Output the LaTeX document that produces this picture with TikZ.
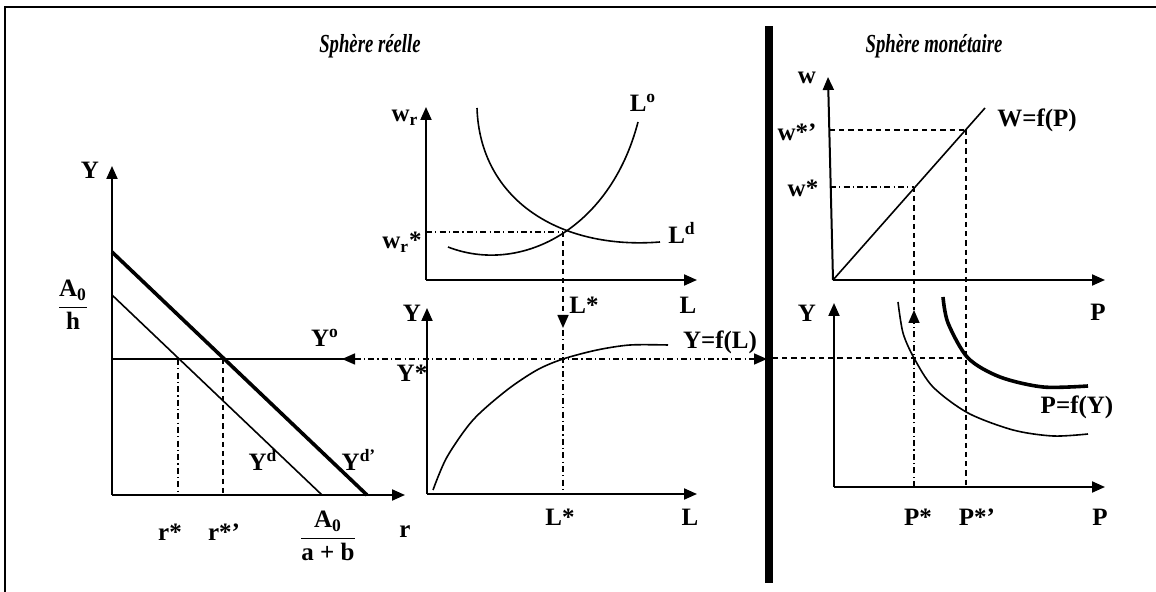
\documentclass[tikz,border=0pt]{standalone}
\usepackage{amsmath}
\usepackage{fontspec}
\setmainfont{Liberation Serif}
\usetikzlibrary{arrows.meta}

\begin{document}
\begin{tikzpicture}[x=0.5pt,y=-0.5pt,
    >={Triangle[length=6.5pt,width=5.5pt]},
    every node/.style={font=\fontsize{12.5}{14}\selectfont\bfseries, inner sep=1pt},
    titre/.style={font=\fontsize{13}{15}\selectfont\bfseries\itshape},
    axe/.style={line width=1pt, ->},
    courbe/.style={line width=0.8pt},
    grosse/.style={line width=1.8pt},
    tirets/.style={line width=0.8pt, dash pattern=on 2.6pt off 2pt},
    mixte/.style={line width=0.8pt, dash pattern=on 3pt off 1.6pt on 0.6pt off 1.6pt}]
    \useasboundingbox (0,0) rectangle (1156,592);
    \draw[line width=1.3pt] (5,592) -- (5,7) -- (1156,7);
    \fill (765,26) rectangle (773,583);
    \node[titre] (titreR) at (370,46) {\scalebox{0.72}[1]{Sphère réelle}};
    \node[titre] (titreM) at (934,46) {\scalebox{0.72}[1]{Sphère monétaire}};

    \coordinate (O1) at (112,495);
    \coordinate (O2) at (426,280);
    \coordinate (O3) at (427,494);
    \coordinate (O4) at (833,280);
    \coordinate (O5) at (834,487);
    \draw[axe] (O1) -- (112,166);
    \draw[axe] (O1) -- (405,495);
    \draw[axe] (O2) -- (426,107);
    \draw[axe] (O2) -- (697,280);
    \draw[axe] (O3) -- (427,308);
    \draw[axe] (O3) -- (697,494);
    \draw[axe] (O4) -- (828,77);
    \draw[axe] (O4) -- (1105,280);
    \draw[axe] (O5) -- (834,303);
    \draw[axe] (O5) -- (1105,487);

    \draw[grosse] (112,252) -- (367,495);
    \draw[courbe] (112,295) -- (322,495);
    \draw[courbe] (112,359) -- (350,359);
    \draw[mixte] (178,359) -- (178,495);
    \draw[tirets] (223,359) -- (223,495);
    \node (Y1) at (90,170) {Y};
    \node (A0h) at (73,305) {$\dfrac{\text{A}_{\text{0}}}{\text{h}}$};
    \node (Yo) at (325,338) {Y\textsuperscript{o}};
    \node (Yd) at (263,460) {Y\textsuperscript{d}};
    \node (Ydp) at (359,460) {Y\textsuperscript{d’}};
    \node (rs) at (170,532) {r*};
    \node (rsp) at (224,532) {r*’};
    \node (A0ab) at (328,536) {$\dfrac{\text{A}_{\text{0}}}{\text{a + b}}$};
    \node (r) at (405,532) {r};

    \draw[courbe] (448,247) .. controls (520,275) and (610,230) .. (638,122);
    \draw[courbe] (477,108) .. controls (480,200) and (560,250) .. (660,242);
    \draw[mixte] (426,232) -- (563,232);
    \draw[tirets, ->] (563,232) -- (563,328);
    \node (wr) at (405,118) {w\textsubscript{r}};
    \node (wrs) at (402,242) {w\textsubscript{r}*};
    \node (Lo) at (643,103) {L\textsuperscript{o}};
    \node (Ld) at (682,233) {L\textsuperscript{d}};
    \node (Ls1) at (584,305) {L*};
    \node (L1) at (688,305) {L};

    \draw[courbe] plot[smooth] coordinates {(433,490) (447,457) (473,420) (507,390) (537,370) (563,359) (597,350) (630,345) (668,345)};
    \draw[mixte] (563,330) -- (563,494);
    \draw[mixte, <->] (342,359) -- (767,359);
    \node (Y2) at (412,313) {Y};
    \node (Ys) at (412,373) {Y*};
    \node (Ls2) at (560,517) {L*};
    \node (L2) at (690,517) {L};
    \node (YfL) at (720,342) {Y=f(L)};

    \draw[courbe] (O4) -- (985,108);
    \draw[tirets] (830,130) -- (966,130);
    \draw[tirets] (966,130) -- (966,487);
    \draw[mixte] (830,187) -- (914,187);
    \draw[tirets] (914,187) -- (914,310);
    \draw[mixte, ->] (914,487) -- (914,310);
    \node (w) at (807,78) {w};
    \node (wsp) at (797,132) {w*’};
    \node (ws) at (803,188) {w*};
    \node (WfP) at (1037,120) {W=f(P)};
    \node (P1) at (1098,312) {P};

    \draw[tirets] (773,358) -- (966,358);
    \draw[courbe] plot[smooth] coordinates {(898,302) (903,333) (914,358) (933,387) (968,413) (1013,430) (1053,436) (1088,434)};
    \draw[grosse] plot[smooth] coordinates {(943,297) (948,323) (968,358) (1000,377) (1043,387) (1088,386)};
    \node (Y3) at (807,313) {Y};
    \node (PfY) at (1077,407) {P=f(Y)};
    \node (Ps) at (918,517) {P*};
    \node (Psp) at (977,517) {P*’};
    \node (P2) at (1100,517) {P};
\end{tikzpicture}
\end{document}
